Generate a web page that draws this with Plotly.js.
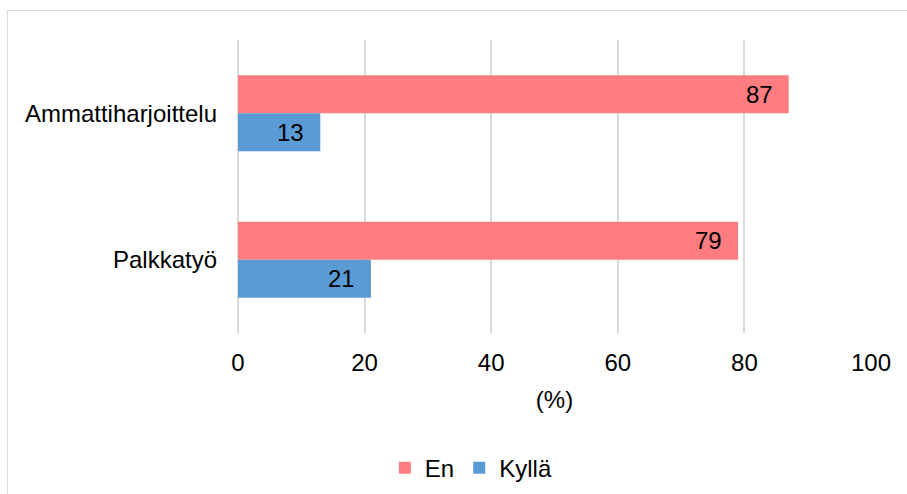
<!DOCTYPE html>
<html>
<head>
<meta charset="utf-8">
<script src="https://cdn.plot.ly/plotly-3.0.1.min.js"></script>
<style>
  html, body { margin: 0; padding: 0; background: #fff; }
  #chart { width: 907px; height: 494px; position: absolute; left: 0; top: 0; }
  #frame { position: absolute; left: 7px; top: 10px; width: 920px; height: 520px;
           border: 1px solid #d9d9d9; pointer-events: none; }
</style>
</head>
<body>
<div id="chart"></div>
<div id="frame"></div>
<script>
const categories = ['Ammattiharjoittelu', 'Palkkatyö'];
const seriesNames = ['En', 'Kyllä'];
const enValues = [87, 79];
const kyllaValues = [13, 21];
const xTicks = [0, 20, 40, 60, 80, 100];
const xTitle = '(%)';

const colors = ['#FF7C80', '#5B9BD5'];
const font = 'Arial, "Liberation Sans", sans-serif';

const data = [
  { type: 'bar', orientation: 'h', name: seriesNames[0], y: categories, x: enValues,
    marker: { color: colors[0] }, hoverinfo: 'x' },
  { type: 'bar', orientation: 'h', name: seriesNames[1], y: categories, x: kyllaValues,
    marker: { color: colors[1] }, hoverinfo: 'x' }
];

const annotations = [];
[enValues, kyllaValues].forEach((vals, si) => {
  vals.forEach((v, i) => {
    annotations.push({
      x: v, y: categories[i], xref: 'x', yref: 'y',
      text: String(v), showarrow: false, xanchor: 'right', yanchor: 'middle',
      xshift: -14, yshift: si === 0 ? 19 : -19,
      font: { family: font, size: 24, color: '#000' }
    });
  });
});

const layout = {
  width: 907, height: 494,
  margin: { l: 238, r: 36, t: 40, b: 161, autoexpand: false },
  paper_bgcolor: '#fff', plot_bgcolor: '#fff',
  font: { family: font, size: 24, color: '#000' },
  barmode: 'group', bargap: 0.48, bargroupgap: 0,
  xaxis: {
    range: [0, 100], tickvals: xTicks, ticktext: xTicks.map(String),
    showgrid: true, gridcolor: '#d9d9d9', gridwidth: 2,
    zeroline: true, zerolinecolor: '#d9d9d9', zerolinewidth: 2,
    showline: false, ticks: '', ticklabelstandoff: 13, automargin: false,
    tickfont: { family: font, size: 24, color: '#000' },
    title: { text: xTitle, font: { family: font, size: 24, color: '#000' }, standoff: 16 }
  },
  yaxis: {
    autorange: 'reversed', showgrid: false, zeroline: false, showline: false,
    ticks: '', ticklabelstandoff: 20, automargin: false,
    tickfont: { family: font, size: 24, color: '#000' }
  },
  showlegend: true,
  legend: {
    orientation: 'h', traceorder: 'normal', x: 0.232, xanchor: 'left',
    y: -0.461, yanchor: 'middle', font: { family: font, size: 24, color: '#000' },
    itemclick: false
  },
  annotations: annotations
};

Plotly.newPlot('chart', data, layout, { displayModeBar: false, staticPlot: true });
</script>
</body>
</html>
